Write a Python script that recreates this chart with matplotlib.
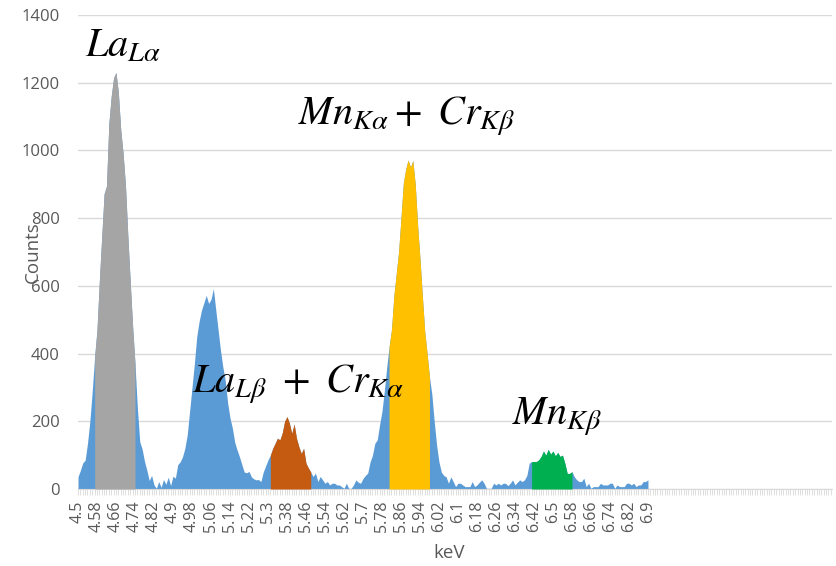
import numpy as np
import matplotlib.pyplot as plt

plt.rcParams['mathtext.fontset'] = 'stix'

# counts per 0.01 keV channel, 4.50 .. 6.90 keV
counts = [
    36, 55, 77, 85, 135, 200, 290, 390, 470, 615,
    745, 872, 895, 1080, 1160, 1215, 1230, 1170, 1060, 990,
    895, 745, 610, 480, 370, 240, 140, 118, 82, 55,
    25, 40, 12, 2, 22, 5, 28, 14, 35, 10,
    38, 32, 72, 80, 95, 120, 160, 230, 300, 370,
    450, 495, 528, 550, 572, 548, 560, 592, 530, 470,
    410, 360, 320, 255, 210, 180, 138, 115, 95, 72,
    50, 48, 52, 36, 30, 27, 28, 22, 50, 68,
    86, 100, 120, 135, 150, 145, 165, 200, 214, 195,
    164, 192, 150, 125, 105, 120, 76, 62, 50, 37,
    47, 22, 37, 27, 17, 22, 12, 17, 17, 12,
    12, 7, 2, 17, 2, 2, 12, 27, 20, 17,
    31, 40, 47, 80, 100, 135, 145, 190, 230, 290,
    360, 420, 470, 570, 635, 700, 800, 903, 945, 972,
    950, 970, 900, 780, 680, 570, 465, 400, 330, 280,
    200, 130, 80, 50, 40, 36, 17, 36, 22, 7,
    17, 17, 12, 7, 7, 7, 22, 7, 12, 20,
    27, 17, 2, 2, 2, 17, 12, 17, 12, 17,
    17, 10, 17, 27, 12, 20, 27, 22, 27, 40,
    76, 81, 81, 81, 86, 96, 112, 100, 117, 103,
    112, 98, 108, 96, 100, 76, 46, 46, 51, 36,
    27, 22, 22, 32, 7, 17, 2, 7, 7, 7,
    17, 12, 12, 12, 17, 17, 2, 12, 7, 7,
    7, 17, 17, 12, 17, 7, 12, 12, 22, 22, 27,
]

# highlighted peak bands (keV) and their colours
bands = [
    ((4.57, 4.74), '#A5A5A5'),
    ((5.31, 5.48), '#C55A11'),
    ((5.81, 5.98), '#FFC000'),
    ((6.41, 6.58), '#00B050'),
]

labels = [
    (r'$La_{L\alpha}$', 85, 57),
    (r'$Mn_{K\alpha}+\ Cr_{K\beta}$', 298, 125),
    (r'$La_{L\beta}\ +\ Cr_{K\alpha}$', 192, 393),
    (r'$Mn_{K\beta}$', 512, 425),
]

counts = np.array(counts, dtype=float)
energy = np.round(4.5 + 0.01 * np.arange(len(counts)), 2)

W, H = 836, 566
fig = plt.figure(figsize=(W / 100, H / 100), dpi=100)
ax = fig.add_axes([78 / W, 1 - 489 / H, (832 - 78) / W, (489 - 15) / H])

ax.fill_between(energy, counts, color='#5B9BD5', lw=0, zorder=2)
for (lo, hi), col in bands:
    m = (energy >= lo - 1e-9) & (energy <= hi + 1e-9)
    ax.fill_between(energy[m], counts[m], color=col, lw=0, zorder=3)

ax.set_xlim(4.5, 4.5 + 0.01 * 317.5)
ax.set_ylim(0, 1400)

ax.set_yticks(np.arange(0, 1401, 200))
ax.yaxis.grid(True, color='#D9D9D9', lw=1)
ax.set_axisbelow(True)
ax.tick_params(axis='y', length=0, pad=13, labelsize=12, labelcolor='#595959')
for lab in ax.get_yticklabels():
    lab.set_fontfamily('Open Sans')

xt = energy[::8]
ax.set_xticks(xt)
ax.set_xticklabels([f'{v:g}' for v in xt], rotation=90, fontsize=11.5,
                   color='#595959', family='Open Sans')
ax.set_xticks(4.5 + 0.01 * np.arange(318), minor=True)
ax.tick_params(axis='x', which='both', length=4.3, color='#D9D9D9', width=0.6, pad=4)

for s in ['top', 'right', 'left']:
    ax.spines[s].set_visible(False)
ax.spines['bottom'].set_color('#D9D9D9')

fig.text(33 / W, 1 - 252 / H, 'Counts', rotation=90, ha='center', va='center',
         fontsize=13.5, color='#595959', family='Open Sans')
fig.text(449 / W, 1 - 553 / H, 'keV', ha='center', va='center',
         fontsize=13.5, color='#595959', family='Open Sans')

for txt, px, py in labels:
    fig.text(px / W, 1 - py / H, txt, ha='left', va='baseline', fontsize=29)

fig.savefig('out.png', dpi=100)
